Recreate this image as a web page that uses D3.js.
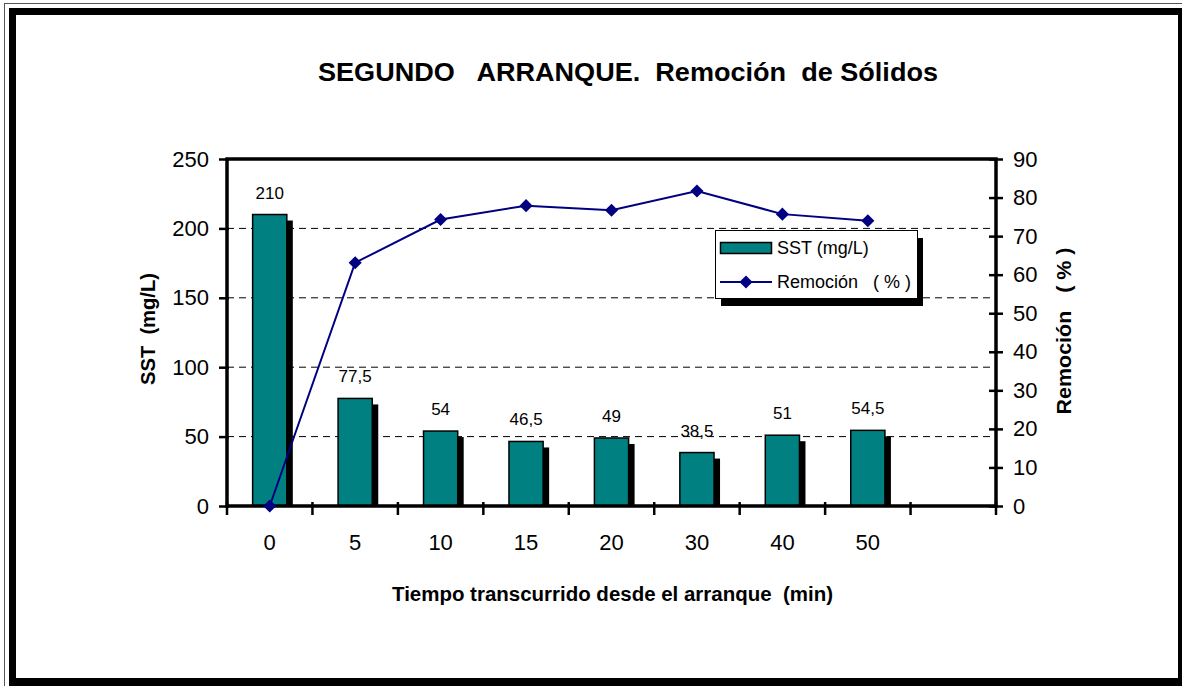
<!DOCTYPE html>
<html>
<head>
<meta charset="utf-8">
<script src="https://cdn.jsdelivr.net/npm/d3@7"></script>
<style>
  body { margin: 0; background: #fff; }
  text { font-family: Arial, "Liberation Sans", sans-serif; }
</style>
</head>
<body>
<script>
// Data
const categories = ["0", "5", "10", "15", "20", "30", "40", "50"];
const sst = [210, 77.5, 54, 46.5, 49, 38.5, 51, 54.5];
const sstLabels = ["210", "77,5", "54", "46,5", "49", "38,5", "51", "54,5"];
const remocion = [0, 63.1, 74.3, 77.9, 76.7, 81.7, 75.7, 74.0];
const sstTicks = [0, 50, 100, 150, 200, 250];
const remTicks = [0, 10, 20, 30, 40, 50, 60, 70, 80, 90];
const gridValues = [50, 100, 150, 200];

// Layout
const width = 1182;
const height = 686;
const plot = { left: 227, right: 996, top: 159, bottom: 506 };
const teal = "#008080";
const navy = "#000080";

const svg = d3.select("body").append("svg")
    .attr("width", width)
    .attr("height", height);

// Outer frame: thin line plus thick black border
svg.append("line").attr("x1", 4).attr("x2", width).attr("y1", 3.5).attr("y2", 3.5)
    .attr("stroke", "#555").attr("stroke-width", 1);
svg.append("line").attr("x1", 4.5).attr("x2", 4.5).attr("y1", 3).attr("y2", height)
    .attr("stroke", "#555").attr("stroke-width", 1);
svg.append("rect").attr("x", 9).attr("y", 8).attr("width", width - 9).attr("height", 7).attr("fill", "#000");
svg.append("rect").attr("x", 9).attr("y", 8).attr("width", 7).attr("height", height - 8).attr("fill", "#000");
svg.append("rect").attr("x", 1178).attr("y", 8).attr("width", 4).attr("height", height - 8).attr("fill", "#000");
svg.append("rect").attr("x", 9).attr("y", 678).attr("width", width - 9).attr("height", 8).attr("fill", "#000");

// Scales (one empty slot at the end, as in the original)
const x = d3.scaleBand()
    .domain([...categories, "_"])
    .range([plot.left, plot.right]);

const ySST = d3.scaleLinear().domain([0, 250]).range([plot.bottom, plot.top]);
const yRem = d3.scaleLinear().domain([0, 90]).range([plot.bottom, plot.top]);

const barW = x.bandwidth() * 0.4;
const cx = c => x(c) + x.bandwidth() / 2;

// Dashed gridlines
svg.append("g").selectAll("line")
    .data(gridValues)
    .join("line")
    .attr("x1", plot.left).attr("x2", plot.right)
    .attr("y1", d => ySST(d)).attr("y2", d => ySST(d))
    .attr("stroke", "#000")
    .attr("stroke-width", 1)
    .attr("stroke-dasharray", "7,5");

// Bar shadows then bars
svg.append("g").selectAll("rect")
    .data(sst)
    .join("rect")
    .attr("x", (d, i) => cx(categories[i]) - barW / 2 + 6)
    .attr("y", d => ySST(d) + 6)
    .attr("width", barW)
    .attr("height", d => plot.bottom - ySST(d) - 6)
    .attr("fill", "#000");

svg.append("g").selectAll("rect")
    .data(sst)
    .join("rect")
    .attr("x", (d, i) => cx(categories[i]) - barW / 2)
    .attr("y", d => ySST(d))
    .attr("width", barW)
    .attr("height", d => plot.bottom - ySST(d))
    .attr("fill", teal)
    .attr("stroke", "#000")
    .attr("stroke-width", 1.5);

// Bar value labels
svg.append("g").selectAll("text")
    .data(sst)
    .join("text")
    .attr("x", (d, i) => cx(categories[i]))
    .attr("y", d => ySST(d) - 16)
    .attr("text-anchor", "middle")
    .attr("font-size", 17)
    .text((d, i) => sstLabels[i]);

// Plot area border
svg.append("rect")
    .attr("x", plot.left).attr("y", plot.top)
    .attr("width", plot.right - plot.left)
    .attr("height", plot.bottom - plot.top)
    .attr("fill", "none")
    .attr("stroke", "#000")
    .attr("stroke-width", 3.5);

// Left axis
const leftAxis = svg.append("g")
    .attr("transform", `translate(${plot.left},0)`)
    .call(d3.axisLeft(ySST).tickValues(sstTicks).tickSize(8).tickPadding(10));
leftAxis.select(".domain").remove();
leftAxis.selectAll("line").attr("stroke-width", 2.5).attr("x2", -8).attr("x1", 2);
leftAxis.selectAll("text").attr("font-size", 22).attr("fill", "#000");

// Right axis
const rightAxis = svg.append("g")
    .attr("transform", `translate(${plot.right},0)`)
    .call(d3.axisRight(yRem).tickValues(remTicks).tickSize(7).tickPadding(10));
rightAxis.select(".domain").remove();
rightAxis.selectAll("line").attr("stroke-width", 2.5).attr("x1", -7);
rightAxis.selectAll("text").attr("font-size", 22).attr("fill", "#000");

// Bottom axis labels (centered in the bands) and boundary ticks
const bottomAxis = svg.append("g")
    .attr("transform", `translate(0,${plot.bottom})`)
    .call(d3.axisBottom(x).tickSize(0).tickPadding(28).tickFormat(d => d === "_" ? "" : d));
bottomAxis.select(".domain").remove();
bottomAxis.selectAll("text").attr("font-size", 22).attr("fill", "#000");

svg.append("g").selectAll("line")
    .data([...x.domain().map(d => x(d)), plot.right])
    .join("line")
    .attr("x1", d => d).attr("x2", d => d)
    .attr("y1", plot.bottom - 4).attr("y2", plot.bottom + 9)
    .attr("stroke", "#000")
    .attr("stroke-width", 2.5);

// Removal line with diamond markers
const line = d3.line()
    .x((d, i) => cx(categories[i]))
    .y(d => yRem(d));

svg.append("path")
    .datum(remocion)
    .attr("d", line)
    .attr("fill", "none")
    .attr("stroke", navy)
    .attr("stroke-width", 2);

const diamond = d3.symbol(d3.symbolSquare, 86);
svg.append("g").selectAll("path")
    .data(remocion)
    .join("path")
    .attr("d", diamond)
    .attr("transform", (d, i) => `translate(${cx(categories[i])},${yRem(d)}) rotate(45)`)
    .attr("fill", navy);

// Legend
const legend = svg.append("g");
legend.append("rect").attr("x", 721).attr("y", 238).attr("width", 202).attr("height", 68).attr("fill", "#000");
legend.append("rect").attr("x", 715.5).attr("y", 230.5).attr("width", 202).attr("height", 68)
    .attr("fill", "#fff").attr("stroke", "#000").attr("stroke-width", 1);
legend.append("rect").attr("x", 720.5).attr("y", 242.5).attr("width", 51).attr("height", 11)
    .attr("fill", teal).attr("stroke", "#000").attr("stroke-width", 1.5);
legend.append("text").attr("x", 777).attr("y", 254).attr("font-size", 18)
    .style("white-space", "pre").text("SST (mg/L)");
legend.append("line").attr("x1", 720).attr("x2", 772).attr("y1", 282).attr("y2", 282)
    .attr("stroke", navy).attr("stroke-width", 2);
legend.append("path").attr("d", diamond)
    .attr("transform", "translate(746,282) rotate(45)").attr("fill", navy);
legend.append("text").attr("x", 777).attr("y", 288).attr("font-size", 18)
    .style("white-space", "pre").text("Remoción   ( % )");

// Titles
svg.append("text")
    .attr("x", 628).attr("y", 81)
    .attr("text-anchor", "middle")
    .attr("font-size", 25).attr("font-weight", "bold")
    .attr("textLength", 620).attr("lengthAdjust", "spacingAndGlyphs")
    .style("white-space", "pre")
    .text("SEGUNDO   ARRANQUE.  Remoción  de Sólidos");

svg.append("text")
    .attr("x", 612.5).attr("y", 601)
    .attr("text-anchor", "middle")
    .attr("font-size", 20).attr("font-weight", "bold")
    .attr("textLength", 441).attr("lengthAdjust", "spacingAndGlyphs")
    .style("white-space", "pre")
    .text("Tiempo transcurrido desde el arranque  (min)");

svg.append("text")
    .attr("transform", "translate(155,329) rotate(-90)")
    .attr("text-anchor", "middle")
    .attr("font-size", 20).attr("font-weight", "bold")
    .attr("textLength", 112).attr("lengthAdjust", "spacingAndGlyphs")
    .style("white-space", "pre")
    .text("SST  (mg/L)");

svg.append("text")
    .attr("transform", "translate(1071,331) rotate(-90)")
    .attr("text-anchor", "middle")
    .attr("font-size", 21).attr("font-weight", "bold")
    .attr("textLength", 167).attr("lengthAdjust", "spacingAndGlyphs")
    .style("white-space", "pre")
    .text("Remoción   ( % )");
</script>
</body>
</html>
